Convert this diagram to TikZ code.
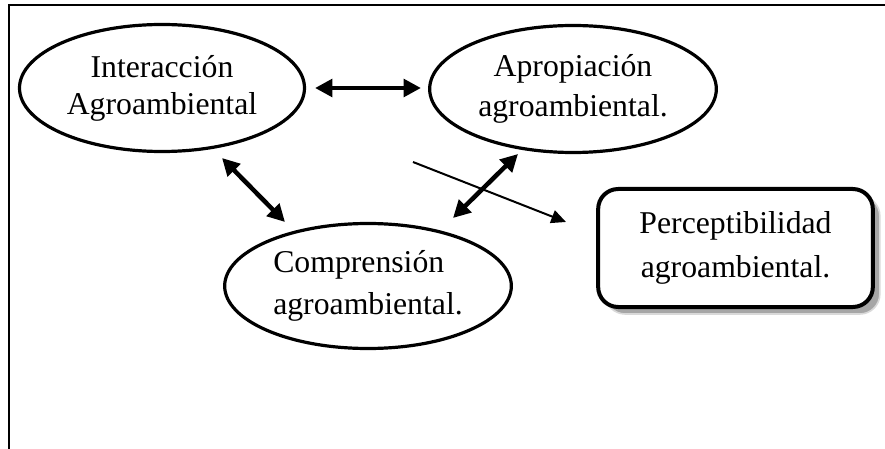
\documentclass[tikz,border=0pt]{standalone}
\usepackage{fontspec}
\setmainfont{Liberation Serif}
\usetikzlibrary{arrows.meta,shapes.geometric,shadows}
\begin{document}
\begin{tikzpicture}[x=0.75pt,y=-0.75pt,
  oval/.style={ellipse, draw, line width=2.4pt, inner sep=0pt, align=center},
  dbl/.style={{Triangle[length=13pt,width=13pt]}-{Triangle[length=13pt,width=13pt]}, line width=3.4pt},
  thinarrow/.style={-{Triangle[length=11pt,width=10pt]}, line width=1.5pt},
  rbox/.style={draw, line width=3pt, rounded corners=15pt, inner sep=0pt, align=center, fill=white,
    drop shadow={shadow xshift=5.25pt, shadow yshift=-5.25pt, fill=black!35, draw=black!15, line width=1.2pt, opacity=1}},
  frame/.style={line width=1.5pt}
]
\useasboundingbox (0,0) rectangle (885,449);
% frame
\coordinate (ftr) at (885,5);
\coordinate (ftl) at (8.5,5);
\coordinate (fbl) at (8.5,449);
\draw[frame] (ftr) -- (ftl) -- (fbl);

% nodes
\node[oval, minimum width=213.75pt, minimum height=95.25pt,
  font=\fontsize{23.8pt}{27.75pt}\selectfont] (inter) at (162,88)
  {Interacción\\Agroambiental};
\node[oval, minimum width=215pt, minimum height=95.25pt,
  font=\fontsize{23.8pt}{30pt}\selectfont] (aprop) at (573,89)
  {Apropiación\\agroambiental.};
\node[oval, minimum width=215pt, minimum height=93.75pt, align=left,
  font=\fontsize{23.8pt}{31.5pt}\selectfont] (compr) at (368,286)
  {Comprensión\\agroambiental.};
\node[rbox, minimum width=206pt, minimum height=88.5pt,
  font=\fontsize{23.8pt}{33pt}\selectfont] (perc) at (735.5,248)
  {Perceptibilidad\\agroambiental.};

% arrow end points
\coordinate (h1) at (315,88);
\coordinate (h2) at (421,88);
\coordinate (a1) at (222,158);
\coordinate (a2) at (285,222);
\coordinate (b1) at (518,154);
\coordinate (b2) at (453,218);
\coordinate (t1) at (413,162);
\coordinate (t2) at (566,222);

\draw[dbl] (h1) -- (h2);
\draw[dbl] (a1) -- (a2);
\draw[dbl] (b1) -- (b2);
\draw[thinarrow] (t1) -- (t2);
\end{tikzpicture}
\end{document}
